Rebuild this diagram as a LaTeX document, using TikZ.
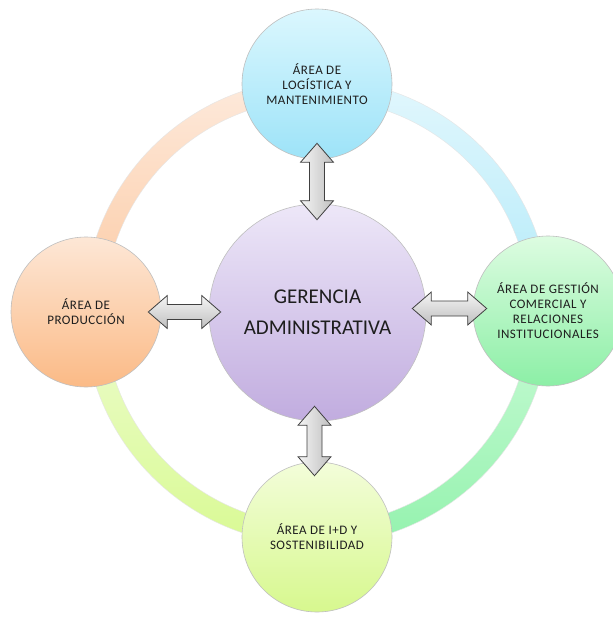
\documentclass[tikz,border=0pt]{standalone}
\usepackage{fontspec}
\setmainfont{Carlito}
\newfontfamily\lblfont[LetterSpace=4]{Carlito}
\usetikzlibrary{calc}
\definecolor{txt}{HTML}{1E1E1E}
\definecolor{rTLa}{HTML}{FDEADC}\definecolor{rTLb}{HTML}{FCC9A2}
\definecolor{rTRa}{HTML}{E2F7FD}\definecolor{rTRb}{HTML}{B2EAF9}
\definecolor{rBRa}{HTML}{CAFBD6}\definecolor{rBRb}{HTML}{94F2AE}
\definecolor{rBLa}{HTML}{EDFCCE}\definecolor{rBLb}{HTML}{D9FA94}
\definecolor{cTa}{HTML}{DBF7FE}\definecolor{cTb}{HTML}{9DE3F8}
\definecolor{cLa}{HTML}{FDE7D6}\definecolor{cLb}{HTML}{FBBA86}
\definecolor{cRa}{HTML}{DDFCE1}\definecolor{cRb}{HTML}{8CEFA6}
\definecolor{cBa}{HTML}{F3FDDA}\definecolor{cBb}{HTML}{D7F88E}
\definecolor{cCa}{HTML}{EDE7F8}\definecolor{cCb}{HTML}{C1ACDF}
\tikzset{
  area/.style={circle, minimum size=150pt, inner sep=0pt, draw=black!25, line width=0.6pt,
    align=center, text=txt, font=\lblfont\fontsize{13}{15}\selectfont},
  mainarea/.style={circle, minimum size=217pt, inner sep=0pt, draw=black!25, line width=0.6pt,
    align=center, text=txt, font=\fontsize{21}{31}\selectfont},
  ringseg/.style={draw=black!10, line width=0.4pt},
  blockarrow/.style={draw=black!75, line width=0.8pt, line join=miter},
}
\newcommand\varrow[2]{%
  \path[blockarrow, left color=gray!8, right color=gray!50] let \p1=(#1), \p2=(#2) in
   (\x1,\y1) -- ++(16.5pt,-19pt) -- ++(-9pt,0pt) -- ({\x1+7.5pt},{\y2+19pt}) -- ++(9pt,0pt)
   -- (\x1,\y2) -- ++(-16.5pt,19pt) -- ++(9pt,0pt) -- ({\x1-7.5pt},{\y1-19pt}) -- ++(-9pt,0pt) -- cycle;}
\newcommand\harrow[2]{%
  \path[blockarrow, top color=gray!8, bottom color=gray!50] let \p1=(#1), \p2=(#2) in
   (\x1,\y1) -- ++(19pt,16.5pt) -- ++(0pt,-9pt) -- ({\x2-19pt},{\y1+7.5pt}) -- ++(0pt,9pt)
   -- (\x2,\y1) -- ++(-19pt,-16.5pt) -- ++(0pt,9pt) -- ({\x1+19pt},{\y1-7.5pt}) -- ++(0pt,-9pt) -- cycle;}
\begin{document}
\begin{tikzpicture}[x=1pt,y=-1pt]
\useasboundingbox (0,0) rectangle (613,619);
\fill[white] (0,0) rectangle (613,619);
\coordinate (rc) at (317,312);
% ring segments
\begin{scope}[shift={(rc)}, x=1pt, y=1pt]
  \path[ringseg, top color=rTLa, bottom color=rTLb]
    (90:233) arc[start angle=90,end angle=180,radius=233] -- (180:213) arc[start angle=180,end angle=90,radius=213] -- cycle;
  \path[ringseg, top color=rTRa, bottom color=rTRb]
    (0:233) arc[start angle=0,end angle=90,radius=233] -- (90:213) arc[start angle=90,end angle=0,radius=213] -- cycle;
  \path[ringseg, top color=rBRa, bottom color=rBRb]
    (270:233) arc[start angle=270,end angle=360,radius=233] -- (0:213) arc[start angle=360,end angle=270,radius=213] -- cycle;
  \path[ringseg, top color=rBLa, bottom color=rBLb]
    (180:233) arc[start angle=180,end angle=270,radius=233] -- (270:213) arc[start angle=270,end angle=180,radius=213] -- cycle;
\end{scope}
% circles
\node[area, top color=cTa, bottom color=cTb] (top) at (317,84)
  {ÁREA DE\\LOGÍSTICA Y\\MANTENIMIENTO};
\node[area, top color=cLa, bottom color=cLb] (left) at (86,312)
  {ÁREA DE\\PRODUCCIÓN};
\node[area, top color=cRa, bottom color=cRb] (right) at (548,311)
  {ÁREA DE GESTIÓN\\COMERCIAL Y\\RELACIONES\\INSTITUCIONALES};
\node[area, top color=cBa, bottom color=cBb] (bot) at (317,537)
  {ÁREA DE I+D Y\\SOSTENIBILIDAD};
\node[mainarea, top color=cCa, bottom color=cCb] (ctr) at (317.5,312.5)
  {GERENCIA\\ADMINISTRATIVA};
% arrow end points
\coordinate (t1) at ($(top.south)+(0,-16)$);
\coordinate (t2) at ($(ctr.north)+(0,16)$);
\coordinate (b1) at ($(ctr.south)+(-3,-15)$);
\coordinate (b2) at ($(bot.north)+(-3,14)$);
\coordinate (l1) at ($(left.east)+(-13,0)$);
\coordinate (l2) at ($(ctr.west)+(12,0)$);
\coordinate (r1) at ($(ctr.east)+(-14,-4)$);
\coordinate (r2) at ($(right.west)+(14,-3)$);
\varrow{t1}{t2}
\varrow{b1}{b2}
\harrow{l1}{l2}
\harrow{r1}{r2}
\end{tikzpicture}
\end{document}
